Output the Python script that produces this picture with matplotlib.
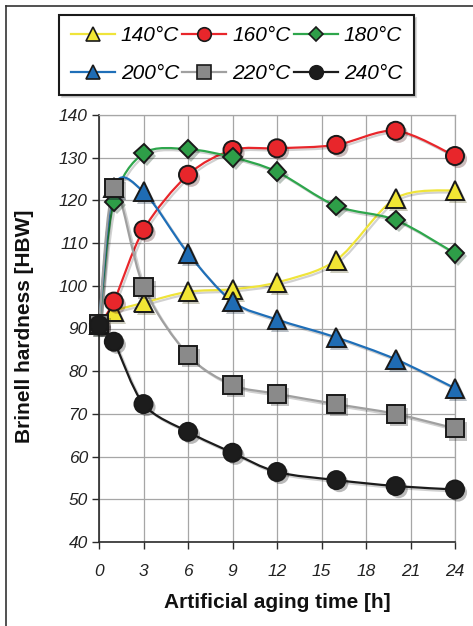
import numpy as np
import matplotlib
matplotlib.use("Agg")
import matplotlib.pyplot as plt
from matplotlib.path import Path
from matplotlib.patches import PathPatch
from matplotlib.lines import Line2D
from matplotlib.font_manager import FontProperties
import matplotlib.patheffects as pe

plt.rcParams['font.family'] = ['Liberation Sans', 'DejaVu Sans']

# Brinell hardness after artificial aging at several temperatures
hours = [0, 1, 3, 6, 9, 12, 16, 20, 24]
series_labels = ["140°C", "160°C", "180°C", "200°C", "220°C", "240°C"]
hbw_140 = [91, 94, 96, 98.6, 99.2, 100.8, 106, 120.5, 122.4]
hbw_160 = [91, 96.3, 113.1, 126, 131.8, 132.2, 133, 136.3, 130.4]
hbw_180 = [91, 119.7, 131, 132, 130.1, 126.7, 118.7, 115.4, 107.6]
hbw_200 = [91, 123, 122, 107.6, 96.3, 92.1, 87.9, 82.8, 76]
hbw_220 = [91, 122.9, 99.8, 83.8, 76.8, 74.7, 72.3, 70, 66.6]
hbw_240 = [90.8, 86.9, 72.3, 65.8, 60.9, 56.4, 54.5, 53.1, 52.3]
all_series = [hbw_140, hbw_160, hbw_180, hbw_200, hbw_220, hbw_240]

# line colour, marker face colour, marker, marker size
styles = [
    ("#efe43a", "#f1e634", "^", 13.5),
    ("#e8262b", "#e8262b", "o", 13.0),
    ("#2ea64c", "#2e9e48", "D", 9.5),
    ("#1f6fb8", "#1f6cb4", "^", 13.5),
    ("#a0a0a0", "#8a8a8a", "s", 13.0),
    ("#1c1c1c", "#1c1c1c", "o", 13.0),
]
edge = "#1a1a1a"


def smooth_path(x, y, k=1 / 6.5):
    """Cubic Bezier path through the points (Catmull-Rom style tangents)."""
    pts = np.column_stack([x, y]).astype(float)
    ext = np.vstack([pts[0], pts, pts[-1]])
    verts = [pts[0]]
    codes = [Path.MOVETO]
    for i in range(len(pts) - 1):
        p0, p1, p2, p3 = ext[i], ext[i + 1], ext[i + 2], ext[i + 3]
        c1 = p1 + (p2 - p0) * k
        c2 = p2 - (p3 - p1) * k
        verts += [c1, c2, p2]
        codes += [Path.CURVE4] * 3
    return Path(verts, codes)


W, H = 473, 626
fig = plt.figure(figsize=(W / 100, H / 100), dpi=100)
ax = fig.add_axes([99 / W, 1 - 542 / H, (455 - 99) / W, (542 - 115) / H])

line_fx = [pe.SimpleLineShadow(offset=(1.5, -1.5), alpha=0.18), pe.Normal()]
mark_fx = [pe.SimplePatchShadow(offset=(2.2, -2.2), alpha=0.28), pe.Normal()]

for vals, (lc, fc, mk, ms) in zip(all_series, styles):
    patch = PathPatch(smooth_path(hours, vals), facecolor="none", edgecolor=lc,
                      lw=1.6, zorder=3, capstyle="round")
    patch.set_path_effects(line_fx)
    ax.add_patch(patch)
    ax.plot(hours, vals, linestyle="none", marker=mk, ms=ms, mfc=fc, mec=edge,
            mew=1.4, clip_on=False, zorder=4, path_effects=mark_fx)

ax.set_xlim(0, 24)
ax.set_ylim(40, 140)
ax.set_xticks(np.arange(0, 25, 3))
ax.set_yticks(np.arange(40, 141, 10))
ax.set_axisbelow(True)
ax.grid(True, color="#a6a6a6", lw=0.9)
for side in ("top", "right"):
    ax.spines[side].set_color("#a6a6a6")
    ax.spines[side].set_linewidth(0.9)
for side in ("left", "bottom"):
    ax.spines[side].set_color("#2a2a2a")
    ax.spines[side].set_linewidth(1.2)
ax.tick_params(axis="both", direction="out", length=5, width=1.0, color="#2a2a2a",
               labelsize=12.5, labelcolor="#222222")
ax.tick_params(axis="y", pad=3)
ax.tick_params(axis="x", pad=11)
for lab in ax.get_xticklabels() + ax.get_yticklabels():
    lab.set_fontstyle("italic")

fig.text(277 / W, 1 - 603 / H, "Artificial aging time [h]", ha="center", va="center",
         fontsize=15, fontweight="bold", color="#111111")
fig.text(24 / W, 1 - 326 / H, "Brinell hardness [HBW]", ha="center", va="center",
         rotation=90, fontsize=15, fontweight="bold", color="#111111")

# legend laid out row by row: 140/160/180 on top, 200/220/240 below
handles = [Line2D([], [], color=lc, lw=1.6, marker=mk, ms=ms * 0.75, mfc=fc,
                  mec=edge, mew=1.2) for (lc, fc, mk, ms) in styles]
order = [0, 3, 1, 4, 2, 5]
leg = fig.legend([handles[i] for i in order], [series_labels[i] for i in order],
                 ncol=3, loc="upper center", bbox_to_anchor=(0.5, 1 - 15 / H),
                 frameon=True, fancybox=False, edgecolor="#1a1a1a",
                 shadow={"color": "#999999", "alpha": 0.35},
                 prop=FontProperties(family="Liberation Sans", style="italic", size=15),
                 handlelength=2.1, handletextpad=0.3, columnspacing=0.15,
                 borderpad=0.55, labelspacing=0.9, borderaxespad=0)
leg.get_frame().set_linewidth(1.5)

# outer frame lines along the left and top edges
fig.add_artist(Line2D([5.5 / W, 5.5 / W], [0, 1 - 6 / H], transform=fig.transFigure,
                      color="#333333", lw=1.2))
fig.add_artist(Line2D([5.5 / W, 1], [1 - 6 / H, 1 - 6 / H], transform=fig.transFigure,
                      color="#333333", lw=1.2))

fig.savefig("out.png", dpi=100)
